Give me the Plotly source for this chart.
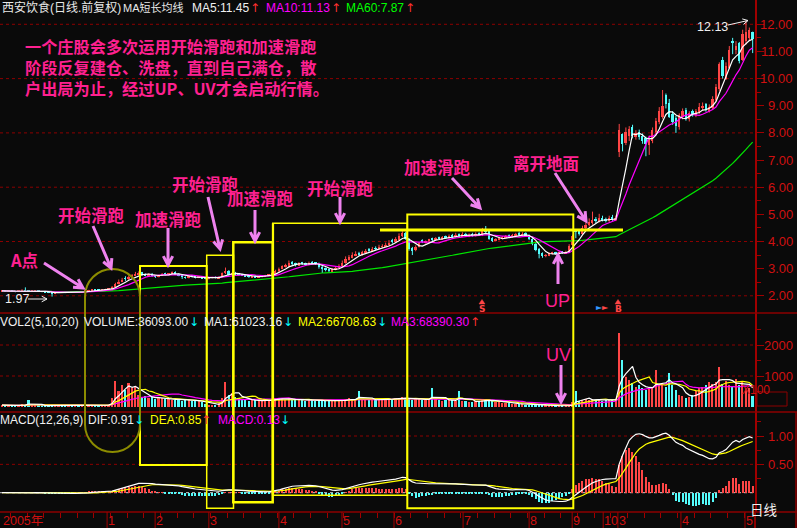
import math
import pandas as pd
import plotly.graph_objects as go

# ---------------- data ----------------
opens = [
2.16, 2.18, 2.16, 2.19, 2.17, 2.15, 2.18, 2.21, 2.18, 2.16,
2.17, 2.19, 2.16, 2.15, 2.13, 2.12, 2.08, 2.12, 2.15, 2.13,
2.12, 2.15, 2.13, 2.15, 2.12, 2.14, 2.17, 2.19, 2.23, 2.22,
2.20, 2.21, 2.23, 2.27, 2.34, 2.46, 2.52, 2.65, 2.62, 2.70,
2.74, 2.80, 2.86, 2.79, 2.75, 2.81, 2.73, 2.70, 2.75, 2.82,
2.77, 2.82, 2.87, 2.81, 2.76, 2.69, 2.66, 2.73, 2.71, 2.67,
2.70, 2.66, 2.63, 2.66, 2.69, 2.65, 2.70, 2.84, 2.92, 2.77,
2.83, 2.81, 2.79, 2.76, 2.73, 2.69, 2.73, 2.68, 2.70, 2.72,
2.74, 2.77, 2.83, 2.90, 3.01, 3.07, 3.10, 3.24, 3.19, 3.13,
3.22, 3.19, 3.14, 3.23, 3.21, 3.18, 3.07, 3.01, 2.97, 2.91,
2.97, 3.01, 3.09, 3.21, 3.33, 3.41, 3.49, 3.57, 3.51, 3.59,
3.70, 3.67, 3.76, 3.73, 3.80, 3.83, 3.87, 4.02, 3.99, 4.07,
4.20, 4.32, 4.08, 3.75, 3.67, 3.81, 4.02, 3.97, 4.02, 4.10,
4.07, 4.14, 4.09, 4.18, 4.13, 4.22, 4.17, 4.26, 4.20, 4.28,
4.20, 4.27, 4.21, 4.30, 4.23, 4.42, 4.38, 4.12, 4.03, 4.07,
4.12, 4.15, 4.22, 4.17, 4.21, 4.28, 4.23, 4.30, 4.22, 4.08,
3.92, 3.72, 3.56, 3.47, 3.50, 3.55, 3.59, 3.55, 3.62, 3.57,
3.63, 3.86, 4.38, 4.37, 4.28, 4.48, 4.60, 4.68, 4.82, 4.74,
4.88, 4.82, 4.76, 4.90, 4.80,
7.30, 7.95, 7.62, 7.90, 8.20,
7.85, 8.05, 7.90, 7.80, 7.55, 7.70, 8.05, 8.40, 8.60, 9.40,
9.10, 8.70, 8.55, 8.20, 8.60, 8.85, 8.50, 8.80, 8.65, 8.75,
8.90, 9.05, 8.80, 8.90, 9.20, 9.60, 10.70, 10.00, 10.40, 11.40,
11.05, 11.30, 10.70, 11.40, 11.50, 11.73,
]
highs = [
2.20, 2.19, 2.21, 2.20, 2.18, 2.19, 2.24, 2.31, 2.19, 2.19,
2.21, 2.20, 2.17, 2.16, 2.14, 2.13, 2.13, 2.16, 2.16, 2.14,
2.15, 2.16, 2.17, 2.16, 2.15, 2.19, 2.22, 2.24, 2.25, 2.23,
2.23, 2.26, 2.28, 2.36, 2.48, 2.60, 2.66, 2.72, 2.75, 2.80,
2.88, 2.90, 2.88, 2.82, 2.83, 2.84, 2.76, 2.78, 2.84, 2.85,
2.84, 2.90, 2.90, 2.83, 2.78, 2.71, 2.74, 2.75, 2.73, 2.72,
2.71, 2.68, 2.67, 2.70, 2.71, 2.72, 2.86, 3.04, 2.95, 2.86,
2.88, 2.84, 2.81, 2.78, 2.75, 2.74, 2.75, 2.73, 2.75, 2.77,
2.80, 2.86, 2.96, 3.04, 3.12, 3.18, 3.30, 3.28, 3.22, 3.24,
3.25, 3.22, 3.26, 3.28, 3.24, 3.22, 3.10, 3.04, 3.00, 3.02,
3.06, 3.16, 3.30, 3.45, 3.50, 3.60, 3.64, 3.62, 3.66, 3.72,
3.76, 3.80, 3.82, 3.88, 3.90, 3.96, 4.05, 4.10, 4.16, 4.30,
4.38, 4.36, 4.12, 3.80, 3.86, 3.98, 4.08, 4.04, 4.10, 4.14,
4.16, 4.18, 4.20, 4.22, 4.26, 4.28, 4.32, 4.30, 4.34, 4.32,
4.30, 4.32, 4.34, 4.34, 4.50, 4.57, 4.40, 4.16, 4.12, 4.16,
4.20, 4.24, 4.26, 4.28, 4.32, 4.36, 4.34, 4.34, 4.26, 4.12,
3.95, 3.76, 3.60, 3.54, 3.60, 3.62, 3.62, 3.63, 3.64, 3.66,
3.90, 4.25, 4.45, 4.42, 4.58, 4.70, 4.85, 5.10, 4.90, 5.02,
4.95, 4.88, 4.95, 4.98, 4.96,
8.33, 7.98, 8.20, 8.25, 8.30,
8.10, 8.12, 7.98, 7.86, 7.90, 8.20, 8.55, 8.95, 9.58, 9.45,
9.25, 8.80, 8.62, 8.72, 8.90, 8.92, 8.80, 8.86, 8.88, 9.10,
9.12, 9.10, 9.05, 9.35, 9.80, 10.60, 10.80, 10.60, 11.20, 11.50,
11.38, 11.35, 11.80, 12.13, 11.88, 11.73,
]
lows = [
2.14, 2.15, 2.15, 2.16, 2.13, 2.14, 2.17, 2.15, 2.14, 2.15,
2.16, 2.15, 2.13, 2.12, 2.10, 1.97, 2.06, 2.11, 2.12, 2.10,
2.11, 2.12, 2.12, 2.11, 2.11, 2.13, 2.16, 2.18, 2.19, 2.19,
2.19, 2.20, 2.22, 2.25, 2.32, 2.42, 2.50, 2.55, 2.58, 2.66,
2.72, 2.76, 2.74, 2.72, 2.73, 2.70, 2.66, 2.68, 2.73, 2.75,
2.75, 2.80, 2.78, 2.72, 2.62, 2.63, 2.64, 2.68, 2.64, 2.65,
2.62, 2.61, 2.60, 2.64, 2.64, 2.64, 2.69, 2.80, 2.74, 2.75,
2.77, 2.74, 2.73, 2.70, 2.66, 2.67, 2.66, 2.66, 2.68, 2.70,
2.72, 2.75, 2.80, 2.86, 2.98, 3.04, 3.06, 3.10, 3.08, 3.10,
3.14, 3.10, 3.12, 3.16, 3.14, 3.00, 2.84, 2.90, 2.86, 2.88,
2.94, 2.98, 3.06, 3.18, 3.30, 3.38, 3.46, 3.48, 3.48, 3.56,
3.62, 3.62, 3.68, 3.70, 3.76, 3.80, 3.84, 3.92, 3.94, 4.04,
4.16, 4.06, 3.66, 3.50, 3.64, 3.78, 3.94, 3.92, 3.98, 4.02,
4.04, 4.06, 4.06, 4.10, 4.10, 4.12, 4.14, 4.16, 4.16, 4.18,
4.16, 4.18, 4.18, 4.20, 4.20, 4.30, 4.06, 3.98, 4.00, 4.04,
4.08, 4.12, 4.14, 4.14, 4.16, 4.20, 4.20, 4.18, 4.05, 3.86,
3.64, 3.38, 3.40, 3.42, 3.46, 3.52, 3.52, 3.52, 3.55, 3.54,
3.60, 3.84, 4.12, 4.22, 4.25, 4.42, 4.55, 4.62, 4.68, 4.70,
4.74, 4.70, 4.72, 4.76, 4.75,
7.11, 7.32, 7.55, 7.70, 7.80,
7.75, 7.75, 7.60, 7.14, 7.19, 7.62, 7.95, 8.32, 8.52, 8.90,
8.55, 8.30, 8.00, 8.12, 8.50, 8.45, 8.42, 8.60, 8.58, 8.70,
8.82, 8.78, 8.75, 8.85, 9.15, 9.55, 10.00, 9.95, 10.35, 10.90,
10.90, 10.56, 10.65, 11.25, 11.40, 10.94,
]
closes = [
2.18, 2.16, 2.19, 2.17, 2.15, 2.18, 2.20, 2.17, 2.16, 2.18,
2.19, 2.16, 2.15, 2.13, 2.12, 2.08, 2.12, 2.14, 2.13, 2.12,
2.14, 2.13, 2.15, 2.12, 2.14, 2.18, 2.20, 2.22, 2.21, 2.20,
2.22, 2.24, 2.26, 2.34, 2.45, 2.52, 2.58, 2.62, 2.70, 2.74,
2.82, 2.85, 2.78, 2.76, 2.80, 2.72, 2.70, 2.76, 2.80, 2.78,
2.82, 2.86, 2.80, 2.76, 2.68, 2.66, 2.72, 2.70, 2.68, 2.70,
2.65, 2.64, 2.66, 2.68, 2.66, 2.70, 2.84, 2.90, 2.78, 2.82,
2.80, 2.78, 2.75, 2.72, 2.70, 2.72, 2.69, 2.71, 2.73, 2.75,
2.78, 2.84, 2.90, 3.00, 3.08, 3.12, 3.22, 3.18, 3.14, 3.20,
3.18, 3.15, 3.22, 3.20, 3.18, 3.06, 3.00, 2.96, 2.92, 2.98,
3.02, 3.10, 3.22, 3.34, 3.42, 3.50, 3.55, 3.52, 3.60, 3.66,
3.68, 3.72, 3.74, 3.78, 3.82, 3.88, 3.95, 4.00, 4.08, 4.22,
4.30, 4.10, 3.72, 3.68, 3.80, 3.95, 4.00, 4.00, 4.06, 4.08,
4.12, 4.10, 4.16, 4.14, 4.20, 4.18, 4.24, 4.22, 4.26, 4.22,
4.25, 4.22, 4.28, 4.24, 4.40, 4.36, 4.10, 4.05, 4.08, 4.12,
4.16, 4.20, 4.18, 4.22, 4.26, 4.24, 4.28, 4.22, 4.10, 3.90,
3.70, 3.55, 3.48, 3.50, 3.56, 3.58, 3.56, 3.60, 3.58, 3.62,
3.85, 4.20, 4.35, 4.30, 4.50, 4.62, 4.70, 4.80, 4.76, 4.85,
4.80, 4.78, 4.86, 4.82, 4.88,
8.10, 7.60, 8.05, 8.15, 7.90,
8.00, 7.85, 7.70, 7.60, 7.75, 8.10, 8.45, 8.80, 9.00, 9.05,
8.60, 8.40, 8.25, 8.65, 8.80, 8.55, 8.75, 8.70, 8.80, 8.95,
9.00, 8.85, 8.95, 9.25, 9.70, 10.55, 10.10, 10.45, 11.05, 11.30,
11.20, 10.65, 11.65, 11.70, 11.80, 11.45,
]
# volume in units of 100 hands (axis shows X100)
volumes = [
60, 45, 70, 40, 55, 50, 90, 60, 225, 45,
50, 60, 40, 35, 45, 80, 60, 50, 40, 55,
45, 50, 40, 60, 55, 70, 50, 45, 60, 55,
50, 65, 80, 300, 840, 520, 700, 560, 760, 620,
680, 380, 300, 350, 280, 320, 250, 300, 280, 260,
250, 230, 220, 260, 200, 240, 210, 190, 230, 180,
150, 100, 70, 60, 80, 120, 300, 820, 400, 450,
330, 280, 250, 220, 200, 240, 210, 180, 200, 230,
220, 250, 280, 300, 260, 240, 280, 230, 210, 250,
220, 200, 240, 210, 190, 230, 200, 180, 210, 190,
200, 230, 210, 250, 280, 260, 240, 525, 230, 220,
230, 250, 240, 220, 260, 280, 240, 260, 300, 280,
320, 280, 250, 240, 300, 260, 230, 210, 240, 610,
250, 230, 200, 220, 240, 210, 190, 525, 200, 180,
170, 160, 190, 200, 230, 250, 210, 180, 160, 150,
140, 130, 120, 110, 100, 95, 90, 80, 75, 70,
65, 60, 55, 50, 45, 40, 38, 35, 40, 42,
45, 150, 525, 200, 230, 250, 220, 260, 240, 230,
200, 220, 240, 230, 250,
2400, 1515, 980, 870, 775,
650, 700, 600, 560, 640, 620, 1190, 700, 750, 650,
1100, 700, 550, 400, 350, 300, 320, 380, 520, 600,
650, 700, 800, 750, 800, 1300, 750, 850, 700, 650,
900, 700, 850, 600, 600, 361,
]

month_ticks = [31.5, 45.9, 62.0, 83.0, 101.9, 117.5, 138.2, 158.0, 170.9, 180.2, 184.6, 203.5, 222.7]
month_labels = ["1", "2", "3", "4", "5", "6", "7", "8", "9", "10", "3", "4", "5"]
year_label = "2005年"

price_ticks = [2, 3, 4, 5, 6, 7, 8, 9, 10, 11, 12]
price_minor = [2.5, 3.5, 4.5, 5.5, 6.5, 7.5, 8.5, 9.5, 10.5, 11.5]
price_grid = [2, 4, 6, 8, 10, 12]
vol_ticks = [1000, 2000]
vol_minor = [500, 1500, 2500]
macd_ticks = [0.5, 1.0]
macd_minor = [0.25, 0.75, 1.25]

price_header = [("西安饮食(日线.前复权)", "#E8E8E8", 12), ("MA短长均线", "#E8E8E8", 11),
                ("MA5:11.45", "#F0F0F0", 12), ("↑", "#FF3030", 12),
                ("MA10:11.13", "#FF00FF", 12), ("↑", "#FF3030", 12),
                ("MA60:7.87", "#00FF00", 12), ("↑", "#FF3030", 12)]
vol_header = [("VOL2(5,10,20)", "#F0F0F0", 12), ("VOLUME:36093.00", "#F0F0F0", 12), ("↓", "#00FFFF", 12),
              ("MA1:61023.16", "#F0F0F0", 12), ("↓", "#00FFFF", 12), ("MA2:66708.63", "#FFFF00", 12),
              ("↓", "#00FFFF", 12), ("MA3:68390.30", "#FF00FF", 12), ("↑", "#FF3030", 12)]
macd_header = [("MACD(12,26,9)", "#F0F0F0", 12), ("DIF:0.91", "#F0F0F0", 12), ("↓", "#00FFFF", 12),
               ("DEA:0.85", "#FFFF00", 12), ("↑", "#FF3030", 12), ("MACD:0.13", "#FF00FF", 12),
               ("↓", "#00FFFF", 12)]

note_lines = ["一个庄股会多次运用开始滑跑和加速滑跑",
              "阶段反复建仓、洗盘，直到自己满仓，散",
              "户出局为止，经过UP、UV才会启动行情。"]

# ---------------- geometry helpers (pixel -> paper) ----------------
W, H = 797, 528
AXR = 755


def fx(x):
    return x / W


def fy(y):
    return 1 - y / H


BG = "#0A0A0A"
RED = "#FF4646"
CYAN = "#54FCFC"
AXC = "#A00000"
SEP = "#8C0000"
LBL = "#D01010"
PINK = "#FF2090"
VIOLET = "#EE82EE"
YEL = "#FFFF00"

n = len(closes)
idx = list(range(n))
c = pd.Series(closes, dtype=float)
v = pd.Series(volumes, dtype=float)
ma5 = c.rolling(5, min_periods=1).mean()
ma10 = c.rolling(10, min_periods=1).mean()
ma60 = c.rolling(60, min_periods=1).mean()
vma5 = v.rolling(5, min_periods=1).mean()
vma10 = v.rolling(10, min_periods=1).mean()
vma20 = v.rolling(20, min_periods=1).mean()
ema12 = c.ewm(span=12, adjust=False).mean()
ema26 = c.ewm(span=26, adjust=False).mean()
dif = ema12 - ema26
dea = dif.ewm(span=9, adjust=False).mean()
hist = 2 * (dif - dea)

up = [cl >= op for op, cl in zip(opens, closes)]
cols = [RED if u else CYAN for u in up]

fig = go.Figure()

# candles: wicks
for flag, col in ((True, RED), (False, CYAN)):
    xs, ys = [], []
    for i in idx:
        if up[i] == flag:
            xs += [i, i, None]
            ys += [lows[i], highs[i], None]
    fig.add_trace(go.Scatter(x=xs, y=ys, mode="lines", line=dict(color=col, width=1),
                             xaxis="x", yaxis="y", hoverinfo="skip"))
# candles: bodies
fig.add_trace(go.Bar(x=idx, y=[max(abs(cl - op), 0.015) for op, cl in zip(opens, closes)],
                     base=[min(op, cl) for op, cl in zip(opens, closes)], width=0.55,
                     marker=dict(color=cols, line=dict(width=0)), xaxis="x", yaxis="y"))
for s, col in ((ma60, "#00E600"), (ma10, "#FF00FF"), (ma5, "#FFFFFF")):
    fig.add_trace(go.Scatter(x=idx, y=s, mode="lines", line=dict(color=col, width=1.2),
                             xaxis="x", yaxis="y"))

# volume
fig.add_trace(go.Bar(x=idx, y=volumes, width=0.5, marker=dict(color=cols, line=dict(width=0)),
                     xaxis="x2", yaxis="y2"))
for s, col in ((vma20, "#FF00FF"), (vma10, "#FFFF00"), (vma5, "#FFFFFF")):
    fig.add_trace(go.Scatter(x=idx, y=s, mode="lines", line=dict(color=col, width=1.2),
                             xaxis="x2", yaxis="y2"))

# MACD
fig.add_trace(go.Bar(x=idx, y=hist, width=0.35,
                     marker=dict(color=[RED if h >= 0 else CYAN for h in hist], line=dict(width=0)),
                     xaxis="x3", yaxis="y3"))
fig.add_trace(go.Scatter(x=idx, y=dea, mode="lines", line=dict(color="#FFFF00", width=1.2), xaxis="x3", yaxis="y3"))
fig.add_trace(go.Scatter(x=idx, y=dif, mode="lines", line=dict(color="#FFFFFF", width=1.2), xaxis="x3", yaxis="y3"))

xcommon = dict(domain=[0, AXR / W], range=[-0.6, 225.7], showgrid=False, zeroline=False,
               showticklabels=False, showline=False, fixedrange=True)


def yax(dom, rng, ticks, minor):
    return dict(domain=dom, range=rng, side="right", showgrid=False, zeroline=False,
                showline=True, linecolor=AXC, linewidth=2, ticks="outside", ticklen=7,
                tickcolor=AXC, tickwidth=1, tickmode="array", tickvals=ticks,
                showticklabels=False, fixedrange=True,
                minor=dict(tickmode="array", tickvals=minor, ticks="outside", ticklen=4,
                           tickcolor=AXC, showgrid=False))


shapes = []
annos = []

# grid lines
for g in price_grid:
    shapes.append(dict(type="line", xref="paper", yref="y", x0=0, x1=fx(AXR), y0=g, y1=g,
                       line=dict(color=SEP, width=1, dash="dot"), layer="below"))
for g in vol_ticks:
    shapes.append(dict(type="line", xref="paper", yref="y2", x0=0, x1=fx(AXR), y0=g, y1=g,
                       line=dict(color=SEP, width=1, dash="dot"), layer="below"))
for g in macd_ticks:
    shapes.append(dict(type="line", xref="paper", yref="y3", x0=0, x1=fx(AXR), y0=g, y1=g,
                       line=dict(color=SEP, width=1, dash="dot"), layer="below"))
shapes.append(dict(type="line", xref="paper", yref="y3", x0=0, x1=fx(AXR), y0=0, y1=0,
                   line=dict(color="#D0D0D0", width=1, dash="dot"), layer="below"))

# right axis tick labels (right aligned)
for t in price_ticks:
    annos.append(dict(xref="paper", yref="y", x=fx(795), y=t, text=f"{t:.2f}", showarrow=False,
                      xanchor="right", yanchor="middle", font=dict(family="Liberation Sans", size=13, color=LBL)))
for t in vol_ticks:
    annos.append(dict(xref="paper", yref="y2", x=fx(795), y=t, text=f"{t}", showarrow=False,
                      xanchor="right", yanchor="middle", font=dict(family="Liberation Sans", size=13, color=LBL)))
for t in macd_ticks:
    annos.append(dict(xref="paper", yref="y3", x=fx(795), y=t, text=f"{t:.2f}", showarrow=False,
                      xanchor="right", yanchor="middle", font=dict(family="Liberation Sans", size=13, color=LBL)))

# separators and frames
for yy in (313, 412, 512):
    shapes.append(dict(type="line", xref="paper", yref="paper", x0=0, x1=1, y0=fy(yy), y1=fy(yy),
                       line=dict(color=SEP, width=1.5)))
shapes.append(dict(type="line", xref="paper", yref="paper", x0=fx(796), x1=fx(796), y0=fy(412), y1=fy(528),
                   line=dict(color=SEP, width=1.5)))
shapes.append(dict(type="line", xref="paper", yref="paper", x0=fx(AXR), x1=fx(AXR), y0=fy(512), y1=fy(528),
                   line=dict(color=SEP, width=2)))
shapes.append(dict(type="rect", xref="paper", yref="paper", x0=fx(757), x1=fx(787), y0=fy(392), y1=fy(406),
                   line=dict(color=SEP, width=1)))
annos.append(dict(xref="paper", yref="paper", x=fx(772), y=fy(399), text="X100", showarrow=False,
                  font=dict(family="Liberation Sans", size=12, color=LBL)))
annos.append(dict(xref="paper", yref="paper", x=fx(778), y=fy(520), text="日线", showarrow=False,
                  borderpad=0, font=dict(family="Noto Sans CJK SC", size=13.5, color="#F0F0F0")))

# bottom time axis
for t in month_ticks:
    shapes.append(dict(type="line", xref="x3", yref="paper", x0=t, x1=t, y0=fy(512), y1=fy(528),
                       line=dict(color=AXC, width=1)))
for t, lab in zip(month_ticks, month_labels):
    annos.append(dict(xref="x3", yref="paper", x=t, y=fy(520.5), text=lab, showarrow=False, xanchor="left",
                      xshift=0, yanchor="middle", borderpad=0,
                      font=dict(family="Liberation Sans", size=12.5, color=LBL)))
annos.append(dict(xref="paper", yref="paper", x=fx(1), y=fy(520.5), text=year_label, showarrow=False,
                  xanchor="left", yanchor="middle",
                  font=dict(family="Liberation Sans, Noto Sans CJK SC", size=12.5, color=LBL)))


# headers
def header(items, xs, ypx):
    for (txt, col, sz), x in zip(items, xs):
        fam = "DejaVu Sans" if txt in ("↑", "↓") else "Liberation Sans, Noto Sans CJK SC"
        annos.append(dict(xref="paper", yref="paper", x=fx(x), y=fy(ypx), text=txt, showarrow=False,
                          xanchor="left", yanchor="middle", borderpad=0,
                          font=dict(family=fam, size=sz, color=col)))


header(price_header, [1, 122, 191, 249, 265, 330, 345, 404], 8)
header(vol_header, [-1, 83, 188, 203, 282, 297, 376, 390, 469], 322)
header(macd_header, [-1, 87, 133, 149, 200, 217, 279], 420)

# pink annotation text (one block of three lines)
annos.append(dict(xref="paper", yref="paper", x=fx(24), y=fy(66.5),
                  text="<br>".join(f"<b>{ln}</b>" for ln in note_lines),
                  showarrow=False, xanchor="left", yanchor="middle", align="left", borderpad=0,
                  font=dict(family="Noto Sans CJK SC", size=16.2, color=PINK)))
labels = [("A点", 9, 260), ("开始滑跑", 57, 215), ("加速滑跑", 134, 219), ("开始滑跑", 171, 184),
          ("加速滑跑", 226, 198), ("开始滑跑", 306, 188), ("加速滑跑", 403, 167), ("离开地面", 512, 163)]
for txt, x, y in labels:
    annos.append(dict(xref="paper", yref="paper", x=fx(x), y=fy(y), text=f"<b>{txt}</b>", showarrow=False,
                      xanchor="left", yanchor="middle", borderpad=0,
                      font=dict(family="Noto Sans CJK SC", size=16.5, color=PINK)))
for txt, x, y in (("UP", 544, 301), ("UV", 545, 355)):
    annos.append(dict(xref="paper", yref="paper", x=fx(x), y=fy(y), text=txt, showarrow=False,
                      xanchor="left", yanchor="middle", borderpad=0,
                      font=dict(family="Liberation Sans", size=18, color=PINK)))

# high / low markers
annos.append(dict(xref="paper", yref="paper", x=fx(695), y=fy(27), text="12.13", showarrow=False,
                  xanchor="left", yanchor="middle", font=dict(family="Liberation Sans", size=12.5, color="#F0F0F0")))
annos.append(dict(xref="paper", yref="paper", x=fx(3), y=fy(299), text="1.97", showarrow=False,
                  xanchor="left", yanchor="middle", font=dict(family="Liberation Sans", size=12.5, color="#F0F0F0")))

# signals (letters as text, small up-triangles as shapes)
for txt, x, y, col, sz in (("S", 482, 309, RED, 9), ("B", 618, 309, RED, 9),
                           ("►", 599, 307, "#3399FF", 8), ("►", 605, 307, RED, 8)):
    annos.append(dict(xref="paper", yref="paper", x=fx(x), y=fy(y), text=f"<b>{txt}</b>", showarrow=False,
                      xanchor="center", yanchor="middle", borderpad=0,
                      font=dict(family="DejaVu Sans", size=sz, color=col)))
for x in (482, 618):
    shapes.append(dict(type="path", xref="paper", yref="paper",
                       path=f"M {fx(x - 3)},{fy(304)} L {fx(x)},{fy(299.5)} L {fx(x + 3)},{fy(304)} Z",
                       fillcolor=RED, line=dict(color=RED, width=0.5)))


def arrow(x1, y1, x2, y2, color, width, head, ang=28):
    dx, dy = x2 - x1, y2 - y1
    L = math.hypot(dx, dy)
    bx, by = -dx / L, -dy / L
    a = math.radians(ang)
    ca, sa = math.cos(a), math.sin(a)
    p1 = (x2 + head * (bx * ca - by * sa), y2 + head * (bx * sa + by * ca))
    p2 = (x2 + head * (bx * ca + by * sa), y2 + head * (-bx * sa + by * ca))
    path = (f"M {fx(x1)},{fy(y1)} L {fx(x2)},{fy(y2)} "
            f"M {fx(p1[0])},{fy(p1[1])} L {fx(x2)},{fy(y2)} L {fx(p2[0])},{fy(p2[1])}")
    return dict(type="path", path=path, xref="paper", yref="paper", line=dict(color=color, width=width))


# yellow boxes
boxes = [(140, 266, 206.7, 465, 2), (206.7, 255.3, 233.5, 508.3, 1.5), (233.3, 242.3, 272.7, 502.3, 2.5),
         (272.7, 223.3, 407.3, 495.3, 1.5), (407.3, 214.5, 573.3, 508.3, 2)]
for x0, y0, x1, y1, w in boxes:
    shapes.append(dict(type="rect", xref="paper", yref="paper", x0=fx(x0), x1=fx(x1), y0=fy(y1), y1=fy(y0),
                       line=dict(color=YEL, width=w), fillcolor="rgba(0,0,0,0)"))
shapes.append(dict(type="line", xref="paper", yref="paper", x0=fx(273), x1=fx(273), y0=fy(495.3), y1=fy(223.3),
                   line=dict(color=YEL, width=2.2)))
shapes.append(dict(type="line", xref="paper", yref="paper", x0=fx(380), x1=fx(623), y0=fy(230), y1=fy(230),
                   line=dict(color=YEL, width=3)))

# olive stadium
k = 0.5523 * 27.5
pts = [(85, 296.5), (85, 296.5 - k), (112.5 - k, 269), (112.5, 269), (112.5 + k, 269), (140, 296.5 - k),
       (140, 296.5), (140, 424.5), (140, 424.5 + k), (112.5 + k, 452), (112.5, 452), (112.5 - k, 452),
       (85, 424.5 + k), (85, 424.5)]
P = [f"{fx(a)},{fy(b)}" for a, b in pts]
spath = (f"M {P[0]} C {P[1]} {P[2]} {P[3]} C {P[4]} {P[5]} {P[6]} L {P[7]} "
         f"C {P[8]} {P[9]} {P[10]} C {P[11]} {P[12]} {P[13]} Z")
shapes.append(dict(type="path", path=spath, xref="paper", yref="paper", line=dict(color="#8C8C00", width=2)))

# violet arrows
for a in [(44, 263, 83, 288), (93, 226, 111, 268), (168, 228, 168, 265), (208, 197, 220, 249),
          (255, 210, 255, 241), (340, 197, 340, 222), (452, 178, 480, 208), (555, 173, 586, 221),
          (558, 284, 558, 255), (561, 365, 561, 402)]:
    shapes.append(arrow(*a, VIOLET, 3, 10))
shapes.append(arrow(728, 25, 748, 20.5, "#F0F0F0", 1, 6))
shapes.append(arrow(28, 299, 47, 299, "#F0F0F0", 1, 6))

fig.update_layout(
    width=W, height=H, margin=dict(l=0, r=0, t=0, b=0),
    paper_bgcolor=BG, plot_bgcolor=BG, showlegend=False, barmode="overlay", bargap=0,
    xaxis=dict(**xcommon, anchor="y"),
    xaxis2=dict(**xcommon, anchor="y2", matches="x"),
    xaxis3=dict(**xcommon, anchor="y3", matches="x"),
    yaxis=yax([fy(313), 1], [1.366, 12.895], price_ticks, price_minor),
    yaxis2=yax([fy(412), fy(313)], [-161.3, 3032.3], vol_ticks, vol_minor),
    yaxis3=yax([fy(512), fy(412)], [-0.3404, 1.4233], macd_ticks, macd_minor),
    shapes=shapes, annotations=annos,
)
fig.update_xaxes(rangeslider_visible=False)
fig.layout.xaxis3.update(ticks="outside", tickmode="linear", tick0=2.5, dtick=5, ticklen=5,
                         tickcolor=AXC, tickwidth=1)

fig.write_html("out.html")
